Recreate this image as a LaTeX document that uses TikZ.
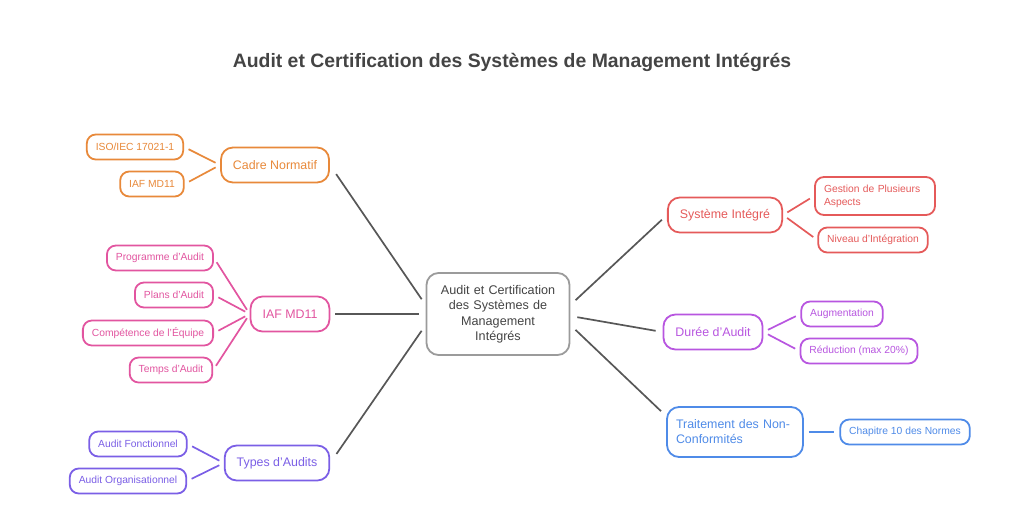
\documentclass[tikz,border=0pt]{standalone}
\usepackage{fontspec}
\setmainfont{Liberation Sans}
\usetikzlibrary{positioning}
\definecolor{corng} {RGB}{232,137, 58}
\definecolor{cpink} {RGB}{226, 85,160}
\definecolor{cindg} {RGB}{123, 95,230}
\definecolor{cred}  {RGB}{229, 90, 90}
\definecolor{cviol} {RGB}{184, 86,224}
\definecolor{cblue} {RGB}{ 79,139,232}
\definecolor{cgray} {RGB}{155,155,155}
\definecolor{ctext} {RGB}{ 68, 68, 68}
\tikzset{
  % Central topic node
  CT/.style={rectangle,rounded corners=12pt,draw=cgray,fill=white,
             text width=124pt,minimum width=143pt,minimum height=82pt,
             align=center,text=ctext,line width=1.8pt,
             font=\fontsize{12.6}{15.5}\selectfont},
  % Branch node, colour as argument
  BR/.style={rectangle,rounded corners=12pt,draw=#1,fill=white,text=#1,
             inner xsep=12pt,minimum height=35pt,align=left,
             font=\fontsize{12.4}{15}\selectfont,line width=1.8pt},
  % Leaf node, colour as argument
  LF/.style={rectangle,rounded corners=9pt,draw=#1,fill=white,text=#1,
             inner xsep=9pt,minimum height=25pt,align=left,
             font=\fontsize{10.3}{13}\selectfont,line width=1.8pt},
  % Connectors
  Main/.style={line width=1.7pt,color=ctext!90,shorten <=11pt,shorten >=7pt},
  Sub/.style ={line width=1.7pt,color=#1,shorten <=5pt,shorten >=5pt},
}
\begin{document}
\begin{tikzpicture}[x=1pt,y=-1pt]
\useasboundingbox (0,0) rectangle (1024,524);
% ── Title ────────────────────────────────
\node[font=\fontsize{19.4}{23}\selectfont\bfseries,text=ctext] (title) at (512,62)
{Audit et Certification des Systèmes de Management Intégrés};
% ── Centre ───────────────────────────────
\node[CT] (core) at (498,314)
{Audit et Certification\\des Systèmes de\\Management\\Intégrés};
% ── Left branches ────────────────────────
\node[BR=corng] (cadre) at (275,165) {Cadre Normatif};
\node[LF=corng] (iso)   at (135,147) {ISO/IEC 17021-1};
\node[LF=corng] (iafa)  at (152,184) {IAF MD11};
\node[BR=cpink] (iafb)  at (290,314) {IAF MD11};
\node[LF=cpink] (prog)  at (160,258) {Programme d'Audit};
\node[LF=cpink] (plans) at (174,295) {Plans d'Audit};
\node[LF=cpink] (comp)  at (148,333) {Compétence de l'Équipe};
\node[LF=cpink] (temps) at (171,370) {Temps d'Audit};
\node[BR=cindg] (types) at (277,463) {Types d'Audits};
\node[LF=cindg] (fonc)  at (138,444) {Audit Fonctionnel};
\node[LF=cindg] (orga)  at (128,481) {Audit Organisationnel};
% ── Right branches ───────────────────────
\node[BR=cred]  (syst)  at (725,215) {Système Intégré};
\node[LF=cred,text width=102pt,minimum height=38pt] (gest) at (875,196)
{Gestion de Plusieurs\\Aspects};
\node[LF=cred]  (nivo)  at (873,240) {Niveau d'Intégration};
\node[BR=cviol] (duree) at (713,332) {Durée d'Audit};
\node[LF=cviol] (augm)  at (842,314) {Augmentation};
\node[LF=cviol] (redu)  at (859,351) {Réduction (max 20\%)};
\node[BR=cblue,inner xsep=9pt,text width=118pt,minimum height=50pt] (trait) at (735,432)
{Traitement des Non-\\Conformités};
\node[LF=cblue] (chap)  at (905,432) {Chapitre 10 des Normes};
% ── Main connectors ──────────────────────
\draw[Main] (cadre.east) -- ([yshift=9pt]core.west);
\draw[Main,shorten <=5pt] (iafb.east) -- (core.west);
\draw[Main] (types.east) -- ([yshift=-11pt]core.west);
\draw[Main,shorten <=7pt] ([yshift=9pt]core.east) -- (syst.west);
\draw[Main,shorten <=7pt] ([yshift=-2pt]core.east) -- (duree.west);
\draw[Main,shorten <=7pt] ([yshift=-11pt]core.east) -- ([yshift=16pt]trait.west);
% ── Sub connectors ───────────────────────
\foreach \c in {iso,iafa} \draw[Sub=corng] (\c.east) -- (cadre.west);
\foreach \c in {prog,plans,comp,temps} \draw[Sub=cpink] (\c.east) -- (iafb.west);
\foreach \c in {fonc,orga} \draw[Sub=cindg] (\c.east) -- (types.west);
\foreach \c in {gest,nivo} \draw[Sub=cred] (syst.east) -- (\c.west);
\foreach \c in {augm,redu} \draw[Sub=cviol] (duree.east) -- (\c.west);
\draw[Sub=cblue] (trait.east) -- (chap.west);
\end{tikzpicture}
\end{document}
